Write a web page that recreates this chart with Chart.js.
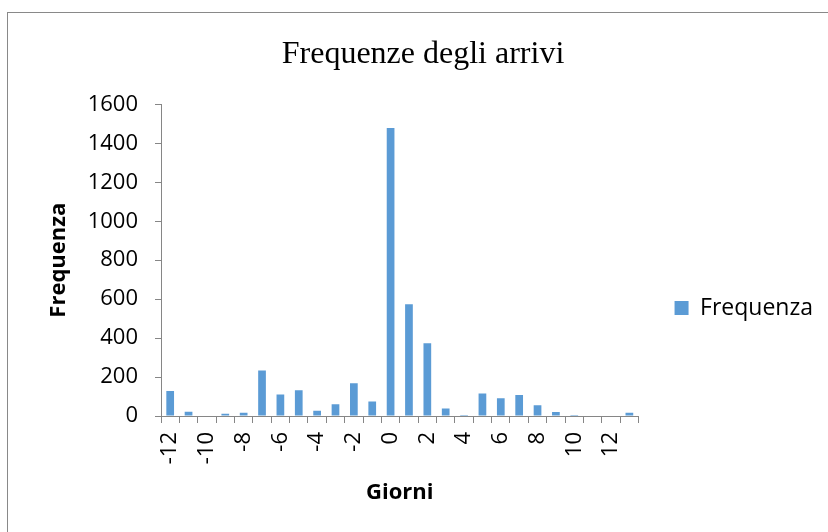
<!DOCTYPE html>
<html>
<head>
<meta charset="utf-8">
<script src="https://cdn.jsdelivr.net/npm/chart.js@4"></script>
<style>
  body { margin: 0; background: #fff; }
  #frame { position: absolute; left: 7px; top: 12px; width: 900px; height: 600px; border: 1px solid #898989; }
  #wrap { position: absolute; left: 0; top: 0; width: 828px; height: 532px; }
</style>
</head>
<body>
<div id="frame"></div>
<div id="wrap"><canvas id="arriviChart" width="828" height="532"></canvas></div>
<script>
// giorni di anticipo / ritardo
var giorni = [-12, -11, -10, -9, -8, -7, -6, -5, -4, -3, -2, -1, 0, 1, 2, 3, 4, 5, 6, 7, 8, 9, 10, 11, 12, 13];
var frequenza = [128, 22, 0, 12, 17, 234, 111, 132, 27, 60, 168, 75, 1479, 574, 373, 39, 5, 116, 91, 108, 55, 20, 5, 0, 0, 17];
var yTicks = [0, 200, 400, 600, 800, 1000, 1200, 1400, 1600];

var axisGrey = '#868686';
var sans = 'Open Sans';

// sposta la legenda in basso come in Excel (centrata sull'altezza del grafico)
var legendShift = {
    id: 'legendShift',
    afterLayout: function (chart) {
        var lg = chart.legend;
        var h = lg.bottom - lg.top;
        lg.top = 308 - h / 2;
        lg.bottom = lg.top + h;
    }
};

function drawChart() {
    var ctx = document.getElementById('arriviChart').getContext('2d');
    new Chart(ctx, {
        type: 'bar',
        data: {
            labels: giorni.map(String),
            datasets: [{
                label: 'Frequenza',
                data: frequenza,
                backgroundColor: '#5B9BD5',
                borderWidth: 0,
                barPercentage: 0.42,
                categoryPercentage: 1
            }]
        },
        plugins: [legendShift],
        options: {
            responsive: false,
            animation: false,
            layout: { padding: { left: 23, right: 5, top: 0, bottom: 0 } },
            plugins: {
                title: {
                    display: true,
                    text: 'Frequenze degli arrivi',
                    color: '#000',
                    font: { family: 'Liberation Serif', size: 32, weight: 'normal' },
                    padding: { top: 35, bottom: 31 }
                },
                legend: {
                    position: 'right',
                    labels: {
                        color: '#000',
                        font: { family: sans, size: 23 },
                        boxWidth: 14,
                        boxHeight: 14,
                        padding: 36
                    }
                },
                tooltip: { enabled: false }
            },
            scales: {
                x: {
                    afterFit: function (scale) { scale.height = 116; },
                    grid: { display: true, drawOnChartArea: false, offset: true, tickLength: 7, color: axisGrey },
                    border: { display: true, color: axisGrey },
                    ticks: {
                        autoSkip: false,
                        minRotation: 90,
                        maxRotation: 90,
                        padding: 9,
                        color: '#000',
                        font: { family: sans, size: 22 },
                        callback: function (v, i) { return i % 2 === 0 ? this.getLabelForValue(v) : ''; }
                    },
                    title: {
                        display: true,
                        text: 'Giorni',
                        color: '#000',
                        font: { family: sans, size: 22, weight: 'bold' },
                        padding: { top: 0, bottom: 26 }
                    }
                },
                y: {
                    min: 0,
                    max: 1600,
                    afterFit: function (scale) { scale.width = 138; },
                    afterBuildTicks: function (axis) { axis.ticks = yTicks.map(function (v) { return { value: v }; }); },
                    grid: { display: true, drawOnChartArea: false, tickLength: 6, color: axisGrey },
                    border: { display: true, color: axisGrey },
                    ticks: {
                        padding: 17,
                        color: '#000',
                        font: { family: sans, size: 22 },
                        callback: function (v) { return String(v); }
                    },
                    title: {
                        display: true,
                        text: 'Frequenza',
                        color: '#000',
                        font: { family: sans, size: 22, weight: 'bold' },
                        padding: { top: 23, bottom: 0 }
                    }
                }
            }
        }
    });
}

Promise.all([
    document.fonts.load('22px "Open Sans"'),
    document.fonts.load('bold 22px "Open Sans"'),
    document.fonts.load('32px "Liberation Serif"')
]).then(drawChart, drawChart);
</script>
</body>
</html>
